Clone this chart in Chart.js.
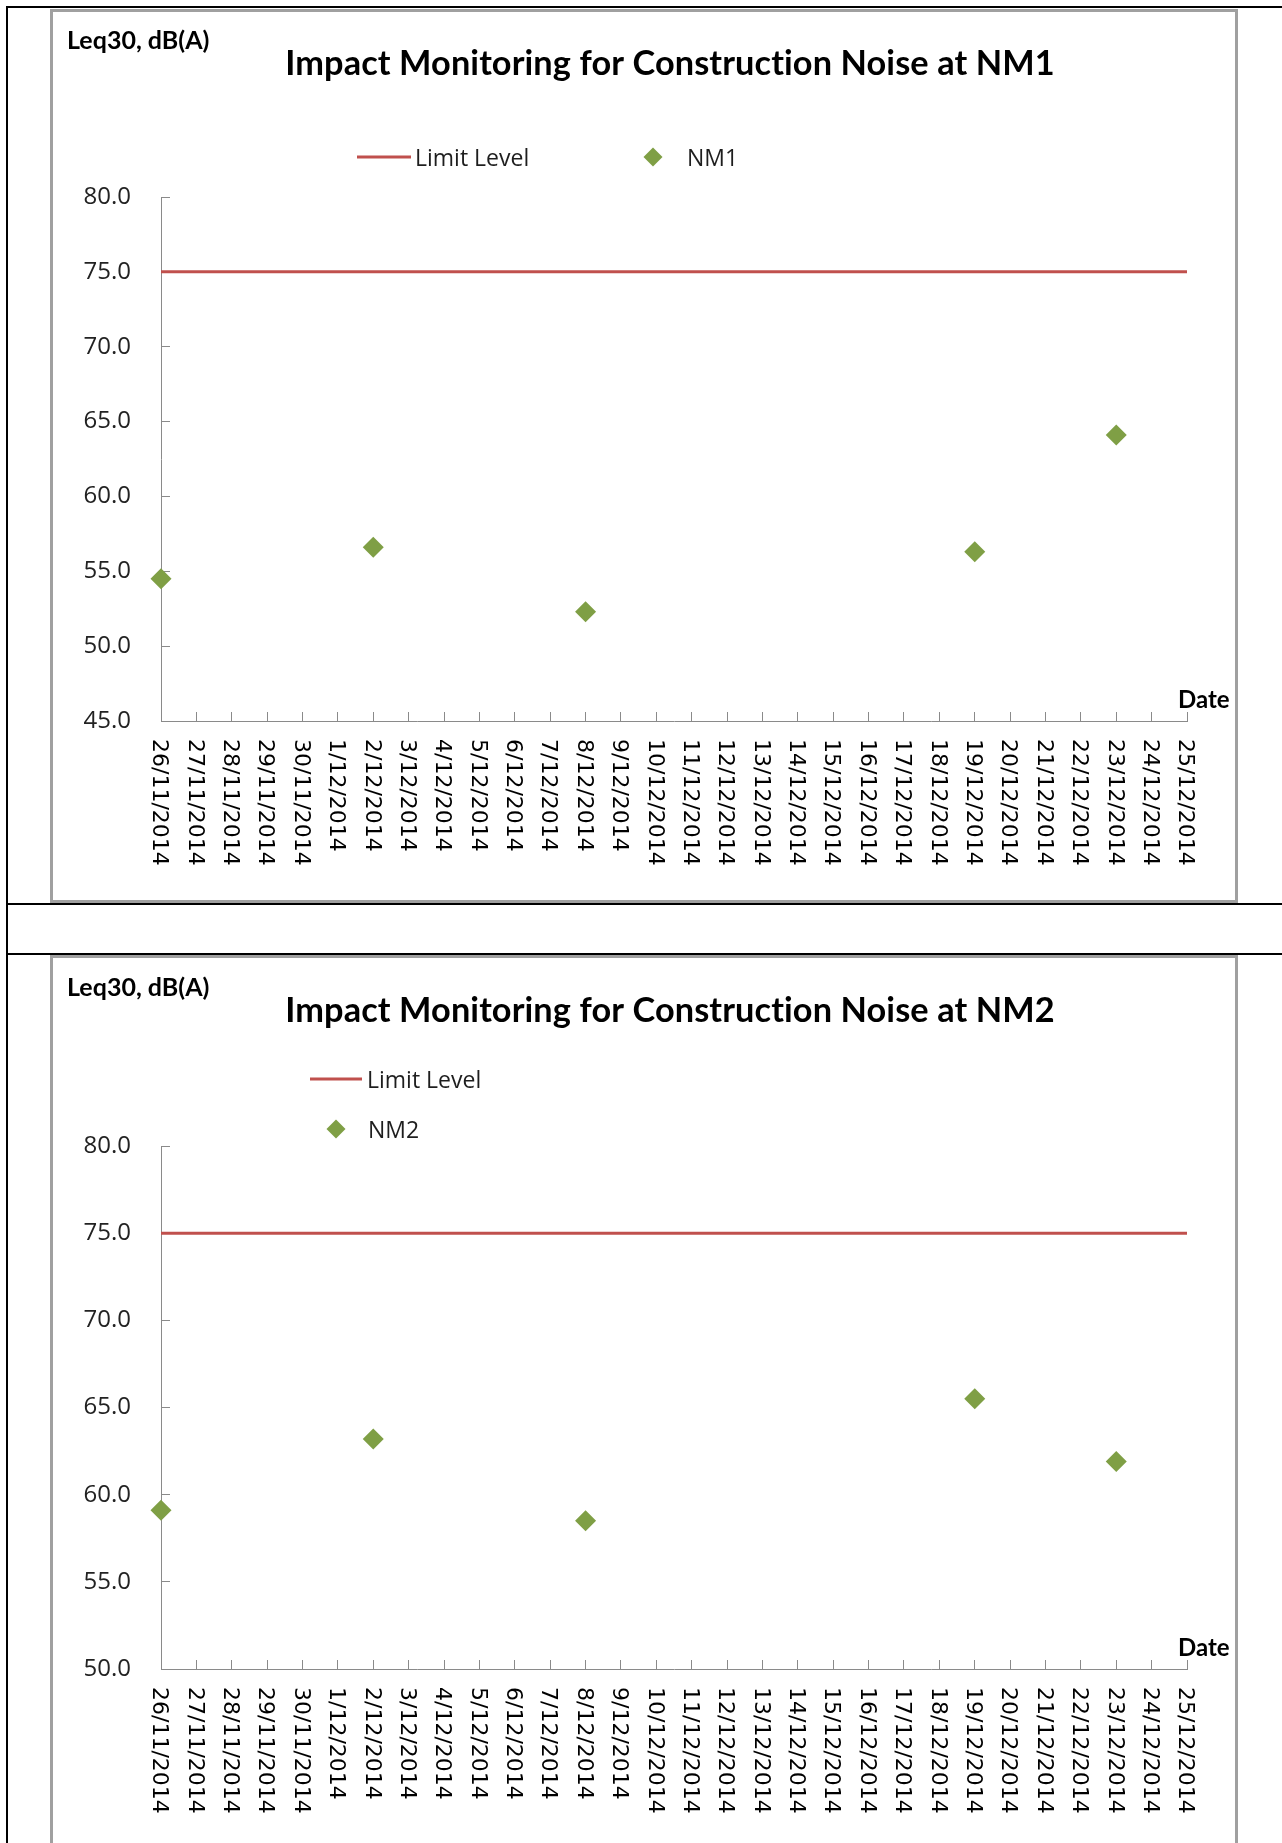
<!DOCTYPE html>
<html>
<head>
<meta charset="utf-8">
<title>Impact Monitoring for Construction Noise</title>
<script src="https://cdn.jsdelivr.net/npm/chart.js@4.4.1/dist/chart.umd.min.js"></script>
<style>
  html, body { margin: 0; padding: 0; background: #fff; }
  body { position: relative; width: 1282px; height: 1843px; overflow: hidden; }
  .rule { position: absolute; background: #000; }
  .frame { position: absolute; left: 50px; width: 1188px; border: 3px solid #a0a0a0; box-sizing: border-box; }
  .box { position: absolute; left: 53px; width: 1182px; }
</style>
</head>
<body>
<!-- table lines of the report page -->
<div class="rule" style="left:6px;top:6px;width:1276px;height:2px"></div>
<div class="rule" style="left:6px;top:6px;width:2px;height:1837px"></div>
<div class="rule" style="left:6px;top:903px;width:1276px;height:2px"></div>
<div class="rule" style="left:6px;top:953px;width:1276px;height:2px"></div>

<div class="frame" style="top:9px;height:894px"></div>
<div class="frame" style="top:955px;height:920px"></div>

<div class="box" style="top:12px;height:888px"><canvas id="nm1Chart"></canvas></div>
<div class="box" style="top:958px;height:885px"><canvas id="nm2Chart"></canvas></div>

<script>
const dates = [
  "26/11/2014", "27/11/2014", "28/11/2014", "29/11/2014", "30/11/2014",
  "1/12/2014", "2/12/2014", "3/12/2014", "4/12/2014", "5/12/2014",
  "6/12/2014", "7/12/2014", "8/12/2014", "9/12/2014", "10/12/2014",
  "11/12/2014", "12/12/2014", "13/12/2014", "14/12/2014", "15/12/2014",
  "16/12/2014", "17/12/2014", "18/12/2014", "19/12/2014", "20/12/2014",
  "21/12/2014", "22/12/2014", "23/12/2014", "24/12/2014", "25/12/2014",
];
const sampleDates = ["26/11/2014", "2/12/2014", "8/12/2014", "19/12/2014", "23/12/2014"];
const nm1Values = [54.5, 56.6, 52.3, 56.3, 64.1];
const nm2Values = [59.1, 63.2, 58.5, 65.5, 61.9];
const limitLevel = 75;
const nm1Range = [45, 80];
const nm2Range = [50, 80];
const yStep = 5;

const LIMIT_COLOR = "#c0504d";
const POINT_COLOR = "#7f9f45";
const AXIS_COLOR = "#8a8a8a";

// draws the excel-style bits chart.js can't place: downward date labels, titles, legend
const sheetText = {
  id: "sheetText",
  afterDraw(chart, args, opts) {
    const { ctx, chartArea } = chart;
    const xs = chart.scales.x;
    ctx.save();

    ctx.fillStyle = "#000";
    ctx.font = '22px "DejaVu Sans"';
    ctx.textAlign = "left";
    ctx.textBaseline = "middle";
    xs.ticks.forEach((t, i) => {
      ctx.save();
      ctx.translate(xs.getPixelForTick(i) - 2, chartArea.bottom + 18);
      ctx.rotate(Math.PI / 2);
      ctx.fillText(xs.getLabelForValue(t.value), 0, 0);
      ctx.restore();
    });

    ctx.textBaseline = "alphabetic";
    ctx.font = 'bold 25px Lato';
    ctx.fillText(opts.unit, 14, opts.unitY);
    ctx.font = 'bold 24px Lato';
    ctx.fillText("Date", chartArea.right - 9, chartArea.bottom - 13);

    ctx.font = 'bold 34.3px Lato';
    ctx.letterSpacing = "0.1px"; // also stops the "ct" ligature
    ctx.textAlign = "center";
    ctx.fillText(opts.title, 617, opts.titleY);
    ctx.letterSpacing = "0px";

    // legend
    ctx.textAlign = "left";
    ctx.font = '23px "Open Sans"';
    chart.data.datasets.forEach((ds, i) => {
      const it = opts.legend[i];
      if (ds.showLine === false) {
        ctx.fillStyle = POINT_COLOR;
        ctx.beginPath();
        ctx.moveTo(it.x, it.y - 9.5);
        ctx.lineTo(it.x + 9.5, it.y);
        ctx.lineTo(it.x, it.y + 9.5);
        ctx.lineTo(it.x - 9.5, it.y);
        ctx.closePath();
        ctx.fill();
      } else {
        ctx.strokeStyle = LIMIT_COLOR;
        ctx.lineWidth = 3;
        ctx.beginPath();
        ctx.moveTo(it.x, it.y);
        ctx.lineTo(it.x2, it.y);
        ctx.stroke();
      }
      ctx.fillStyle = "#1e1e1e";
      ctx.fillText(ds.label, it.textX, it.y + 9);
    });

    ctx.restore();
  },
};

function makeChart(id, name, values, range, top, xHeight, text) {
  return new Chart(document.getElementById(id), {
    type: "line",
    data: {
      labels: dates,
      datasets: [
        {
          label: "Limit Level",
          data: [{ x: dates[0], y: limitLevel }, { x: dates[dates.length - 1], y: limitLevel }],
          borderColor: LIMIT_COLOR,
          borderWidth: 3,
          pointRadius: 0,
          clip: false,
        },
        {
          label: name,
          data: sampleDates.map((d, i) => ({ x: d, y: values[i] })),
          showLine: false,
          pointStyle: "rectRot",
          pointRadius: 10.5,
          backgroundColor: POINT_COLOR,
          borderColor: POINT_COLOR,
          borderWidth: 0,
          clip: false,
        },
      ],
    },
    options: {
      responsive: true,
      maintainAspectRatio: false,
      animation: false,
      events: [],
      layout: { padding: { left: 0, right: 48, top: top, bottom: 0 } },
      scales: {
        x: {
          type: "category",
          offset: false,
          grid: { drawOnChartArea: false, drawTicks: true, tickLength: -9, color: AXIS_COLOR },
          border: { color: AXIS_COLOR, width: 1 },
          ticks: { display: false },
          afterFit: (s) => { s.height = xHeight; },
        },
        y: {
          min: range[0],
          max: range[1],
          grid: { drawOnChartArea: false, drawTicks: true, tickLength: -9, color: AXIS_COLOR },
          border: { color: AXIS_COLOR, width: 1 },
          ticks: {
            stepSize: yStep,
            padding: 39,
            color: "#222",
            font: { family: "Open Sans", size: 24 },
            callback: (v) => v.toFixed(1),
          },
          afterFit: (s) => { s.width = 108; },
        },
      },
      plugins: {
        legend: { display: false },
        tooltip: { enabled: false },
        sheetText: text,
      },
    },
    plugins: [sheetText],
  });
}

makeChart("nm1Chart", "NM1", nm1Values, nm1Range, 185, 179, {
  unit: "Leq30, dB(A)",
  unitY: 37,
  title: "Impact Monitoring for Construction Noise at NM1",
  titleY: 63,
  legend: [
    { x: 304, x2: 358, y: 145, textX: 362 },
    { x: 600, y: 145, textX: 634 },
  ],
});

makeChart("nm2Chart", "NM2", nm2Values, nm2Range, 188, 174, {
  unit: "Leq30, dB(A)",
  unitY: 38,
  title: "Impact Monitoring for Construction Noise at NM2",
  titleY: 64,
  legend: [
    { x: 257, x2: 309, y: 121, textX: 314 },
    { x: 283, y: 171, textX: 315 },
  ],
});
</script>
</body>
</html>
